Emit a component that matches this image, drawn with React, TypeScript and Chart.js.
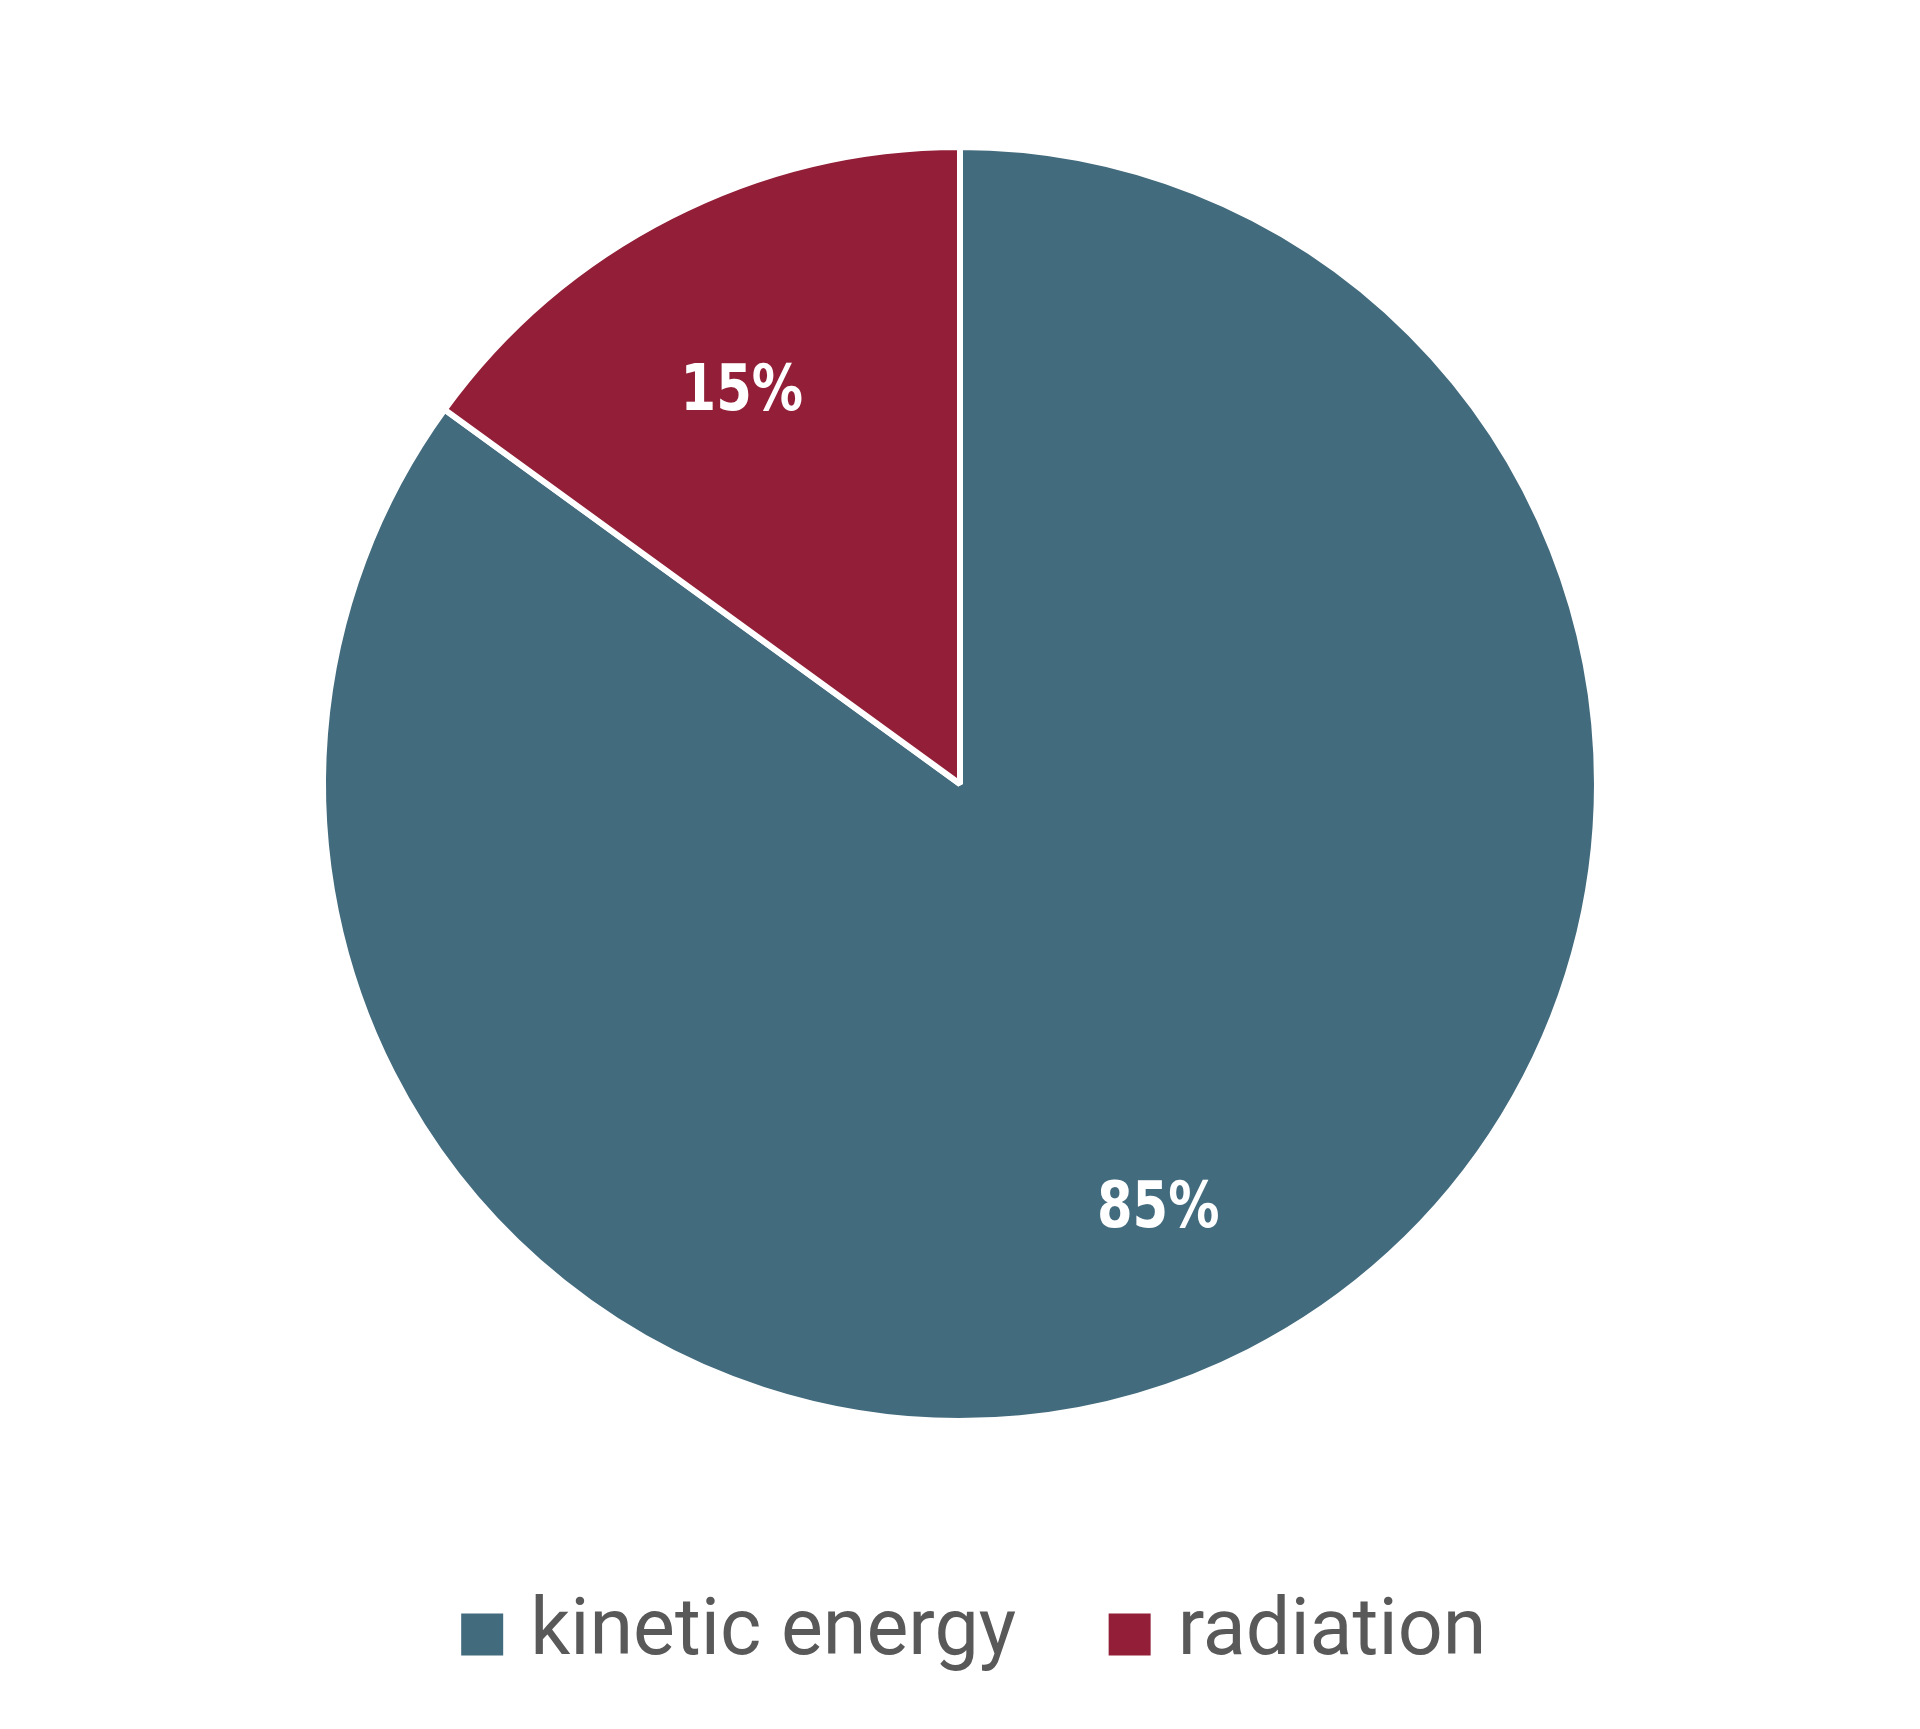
import { useEffect, useRef } from 'react'
import { Chart, ArcElement, Legend, PieController } from 'chart.js'
import type { Plugin, LegendItem } from 'chart.js'

Chart.register(ArcElement, Legend, PieController)

// données
const categories = ['kinetic energy', 'radiation']
const shares = [85, 15]
const sliceColors = ['#436b7e', '#921f37']

// étiquettes en pourcentage posées au milieu de chaque part (police resserrée par une mise à l'échelle horizontale)
const sliceLabels: Plugin<'pie'> = {
    id: 'sliceLabels',
    afterDatasetsDraw(chart) {
        const { ctx } = chart
        const meta = chart.getDatasetMeta(0)
        const data = chart.data.datasets[0].data as number[]
        const total = data.reduce((a, b) => a + b, 0)
        meta.data.forEach((el, i) => {
            const arc = el as unknown as ArcElement
            const { x, y, startAngle, endAngle, outerRadius } = arc.getProps(
                ['x', 'y', 'startAngle', 'endAngle', 'outerRadius'], true
            )
            const mid = (startAngle + endAngle) / 2
            const r = outerRadius * 0.72
            const pct = Math.round((data[i] / total) * 100)
            ctx.save()
            ctx.translate(x + Math.cos(mid) * r - 10, y + Math.sin(mid) * r + 18)
            ctx.scale(0.8, 1)
            ctx.fillStyle = '#ffffff'
            ctx.font = "bold 64px 'DejaVu Sans', sans-serif"
            ctx.textAlign = 'center'
            ctx.textBaseline = 'middle'
            ctx.fillText(`${pct}%`, 0, 0)
            ctx.restore()
        })
    },
}

// la légende de l'original est légèrement décalée vers la droite
const legendShift: Plugin<'pie'> = {
    id: 'legendShift',
    afterLayout(chart) {
        if (!chart.legend) return
        chart.legend.left += 20
        chart.legend.right += 20
    },
}

function App() {
    const canvasRef = useRef<HTMLCanvasElement>(null)

    useEffect(() => {
        document.body.style.margin = '0'
        document.body.style.overflow = 'hidden'
        if (!canvasRef.current) return

        const baseLabels = Chart.overrides.pie.plugins.legend.labels.generateLabels

        const chart = new Chart(canvasRef.current, {
            type: 'pie',
            data: {
                labels: categories,
                datasets: [{
                    data: shares,
                    backgroundColor: sliceColors,
                    borderColor: '#ffffff',
                    borderWidth: 6,
                }],
            },
            options: {
                responsive: false,
                animation: false,
                radius: 637,
                layout: { padding: { top: 78, bottom: 45 } },
                plugins: {
                    legend: {
                        position: 'bottom',
                        labels: {
                            color: '#595959',
                            font: { family: 'Roboto', size: 79 },
                            usePointStyle: true,
                            pointStyle: 'rect',
                            boxWidth: 17,
                            boxHeight: 42,
                            padding: 105,
                            // carrés pleins, sans le liseré blanc des parts
                            generateLabels: (c) =>
                                baseLabels(c as Chart<'pie'>).map((item: LegendItem) => ({
                                    ...item,
                                    pointStyle: 'rect',
                                    lineWidth: 0,
                                    strokeStyle: item.fillStyle,
                                })),
                        },
                    },
                    tooltip: { enabled: false },
                },
            },
            plugins: [sliceLabels, legendShift],
        })

        return () => chart.destroy()
    }, [])

    return (
        <div style={{ width: 1920, height: 1729, background: '#ffffff' }}>
            <canvas ref={canvasRef} width={1920} height={1729}></canvas>
        </div>
    )
}

export default App
